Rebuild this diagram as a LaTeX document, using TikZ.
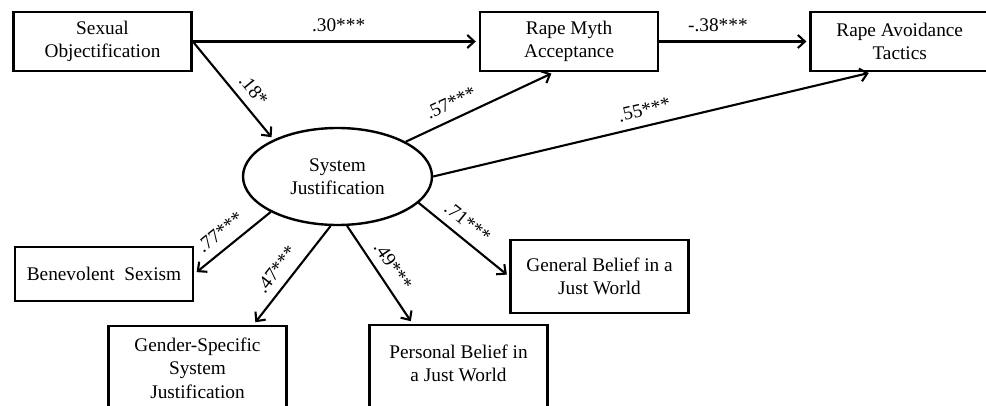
\documentclass[tikz,border=0pt]{standalone}
\usepackage{fontspec}
\setmainfont{Liberation Serif}
\usepackage{tikz}
\usetikzlibrary{shapes.geometric, arrows.meta, positioning}

\begin{document}
\begin{tikzpicture}[
    x=1pt, y=-1pt,
    font=\fontsize{19.3}{23.5}\selectfont,
    box/.style={rectangle, draw, line width=2.6pt, minimum width=178pt, minimum height=59pt, align=center, inner sep=2pt},
    latent/.style={ellipse, draw, line width=2.4pt, minimum width=189pt, minimum height=97pt, align=center, inner sep=0pt},
    arrow/.style={-{Straight Barb[length=7pt, width=13pt]}, line width=2.1pt, shorten >=3pt},
    coef/.style={sloped, above, inner sep=8.5pt}
]
\useasboundingbox (0,0) rectangle (986,406);

\node[box] (so) at (102.5,41.5) {Sexual\\Objectification};
\node[box, right=286pt of so] (rma) {Rape Myth\\Acceptance};
\node[box, right=150pt of rma] (rat) {Rape Avoidance\\Tactics};
\node[latent] (sj) at (337.5,176.5) {System\\Justification};
\node[box, minimum height=54pt] (bs) at (104,274) {Benevolent\ \ Sexism};
\node[box, minimum height=84pt] (gs) at (197.5,368) {Gender-Specific\\System\\Justification};
\node[box, minimum height=100pt] (pb) at (458.5,375) {Personal Belief\ in\\a Just World\\ };
\node[box, minimum height=73pt] (gb) at (599.5,276.5) {General\ Belief\ in a\\Just World};

\draw[arrow] (so.east) -- node[coef, pos=0.51] {.30***} (rma.west);
\draw[arrow] (rma.east) -- node[coef, pos=0.39] {-.38***} (rat.west);
\draw[arrow] (so.east) -- node[coef, pos=0.6] {.18*} (sj.150);
\draw[arrow] (sj.27) -- node[coef, pos=0.35] {.57***} ([xshift=-15pt]rma.south);
\draw[arrow] (sj.east) -- node[coef, pos=0.49] {.55***} ([xshift=-28pt]rat.south);
\draw[arrow] (sj.208) -- node[coef, pos=0.53] {.77***} (bs.east);
\draw[arrow] (sj.262) -- node[coef, pos=0.54] {.47***} ([xshift=56pt]gs.north);
\draw[arrow] (sj.281) -- node[coef, pos=0.5] {.49***} ([xshift=-46pt]pb.north);
\draw[arrow] (sj.342) -- node[coef, pos=0.43] {.71***} (gb.west);
\end{tikzpicture}
\end{document}
